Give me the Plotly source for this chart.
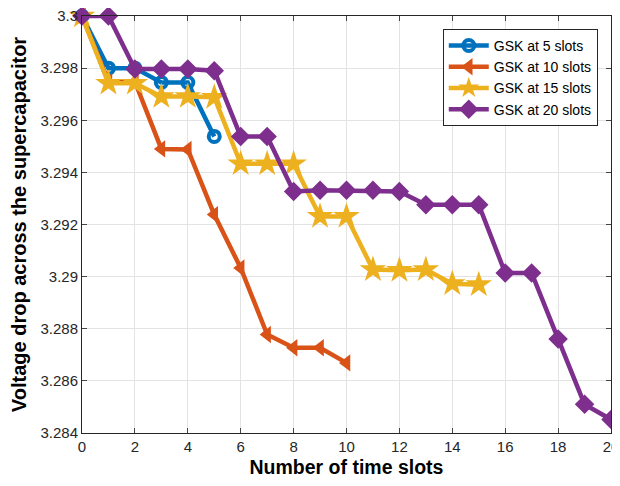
import plotly.graph_objects as go

slots5 = list(range(0, 6))
v5 = [3.3, 3.2980, 3.2980, 3.29745, 3.29745, 3.29538]

slots10 = list(range(0, 11))
v10 = [3.3, 3.29748, 3.29748, 3.29490, 3.29488, 3.29238, 3.29033, 3.28778, 3.28727, 3.28727, 3.28669]

slots15 = list(range(0, 16))
v15 = [3.3, 3.29742, 3.29742, 3.29691, 3.29691, 3.29688, 3.29433, 3.29433, 3.29433,
       3.29231, 3.29231, 3.29027, 3.29024, 3.29027, 3.28973, 3.28969]

slots20 = list(range(0, 21))
v20 = [3.3, 3.3, 3.29797, 3.29797, 3.29797, 3.2979, 3.29538, 3.29538, 3.29327, 3.29331,
       3.29331, 3.29331, 3.29327, 3.29276, 3.29276, 3.29276, 3.29014, 3.29014, 3.28761,
       3.2851, 3.28452]

names = ["GSK at 5 slots", "GSK at 10 slots", "GSK at 15 slots", "GSK at 20 slots"]
colors = ["#0072BD", "#D95319", "#EDB120", "#7E2F8E"]

xticks = list(range(0, 21, 2))
yticks = [3.284, 3.286, 3.288, 3.29, 3.292, 3.294, 3.296, 3.298, 3.3]
yticktext = ["3.284", "3.286", "3.288", "3.29", "3.292", "3.294", "3.296", "3.298", "3.3"]

fig = go.Figure()
fig.add_trace(go.Scatter(x=slots5, y=v5, name=names[0], mode="lines+markers",
                         line=dict(color=colors[0], width=4.5),
                         marker=dict(symbol="circle-open", size=11, color=colors[0],
                                     line=dict(width=4, color=colors[0])),
                         cliponaxis=False))
fig.add_trace(go.Scatter(x=slots10, y=v10, name=names[1], mode="lines+markers",
                         line=dict(color=colors[1], width=4.5),
                         marker=dict(symbol="triangle-left", size=15, color=colors[1]),
                         cliponaxis=False))
fig.add_trace(go.Scatter(x=slots15, y=v15, name=names[2], mode="lines+markers",
                         line=dict(color=colors[2], width=4.5),
                         marker=dict(symbol="star", size=20, color=colors[2]),
                         cliponaxis=False))
fig.add_trace(go.Scatter(x=slots20, y=v20, name=names[3], mode="lines+markers",
                         line=dict(color=colors[3], width=4.5),
                         marker=dict(symbol="diamond", size=15, color=colors[3]),
                         cliponaxis=False))

font_family = "Liberation Sans, Arial, sans-serif"
fig.update_layout(
    width=620, height=470,
    margin=dict(l=74, r=17, t=8, b=45, autoexpand=False),
    paper_bgcolor="white", plot_bgcolor="white",
    font=dict(family=font_family, size=15, color="#262626"),
    showlegend=True,
    legend=dict(x=0.975, y=0.969, xanchor="right", yanchor="top",
                bgcolor="white", bordercolor="#262626", borderwidth=1,
                font=dict(size=14, color="black"), tracegroupgap=0,
                itemwidth=40),
)
fig.update_xaxes(range=[0, 20], tickvals=xticks, ticks="inside", ticklen=5,
                 showline=True, linecolor="#262626", linewidth=1, mirror="ticks",
                 showgrid=True, gridcolor="#E3E3E3", zeroline=False, automargin=False,
                 tickfont=dict(size=15), ticklabeloverflow="allow",
                 title=dict(text="<b>Number of time slots</b>", font=dict(size=19.5, color="black"),
                            standoff=6))
fig.update_yaxes(range=[3.284, 3.3], tickvals=yticks, ticktext=yticktext, ticks="inside", ticklen=5,
                 showline=True, linecolor="#262626", linewidth=1, mirror="ticks",
                 showgrid=True, gridcolor="#E3E3E3", zeroline=False, automargin=False,
                 tickfont=dict(size=15), ticklabeloverflow="allow",
                 title=dict(text="<b>Voltage drop across the supercapacitor</b>",
                            font=dict(size=20, color="black"), standoff=8))

fig.write_html("out.html")
